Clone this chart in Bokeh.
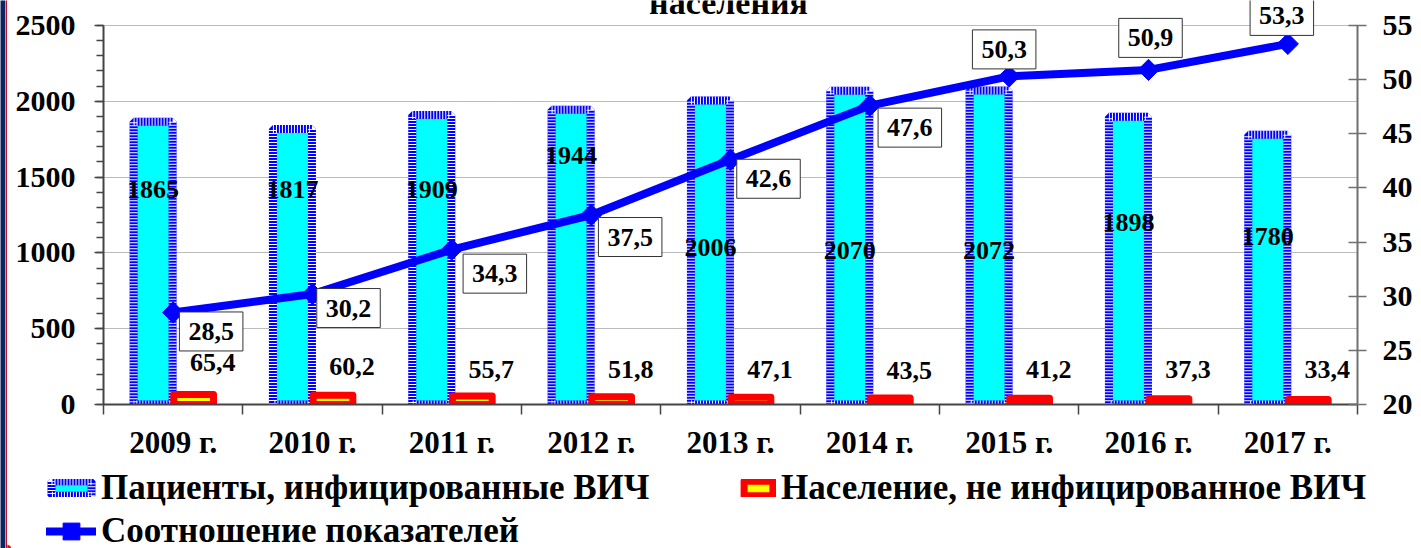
from bokeh.plotting import figure
from bokeh.layouts import column, row
from bokeh.models import (Range1d, LinearAxis, FixedTicker, ColumnDataSource,
                          Legend, LegendItem, Label)
from bokeh.core.properties import value
from bokeh.embed import file_html
from bokeh.resources import INLINE

# ---------------- data ----------------
years = ["2009 г.", "2010 г.", "2011 г.", "2012 г.", "2013 г.",
         "2014 г.", "2015 г.", "2016 г.", "2017 г."]
patients = [1865, 1817, 1909, 1944, 2006, 2070, 2072, 1898, 1780]
population = [65.4, 60.2, 55.7, 51.8, 47.1, 43.5, 41.2, 37.3, 33.4]
ratio = [28.5, 30.2, 34.3, 37.5, 42.6, 47.6, 50.3, 50.9, 53.3]
series_names = ["Пациенты, инфицированные ВИЧ",
                "Население, не инфицированное ВИЧ",
                "Соотношение показателей"]
title_text = "населения"
left_ticks = [0, 500, 1000, 1500, 2000, 2500]
right_ticks = [20, 25, 30, 35, 40, 45, 50, 55]

# label placement (style)
patients_label_y = [1418, 1418, 1418, 1642, 1036, 1016, 1016, 1200, 1108]
population_label_y = [277, 251, 231, 231, 231, 226, 229, 231, 231]
ratio_dx = [38, 36, 43, 39, 38, 40, -5, 2, -6]
ratio_dy = [19, 14, 24, 22, 19, 22, -27, -32, -28]

FONT = "Liberation Serif"
TOTAL_W = 1421
STRIP_NAVY = 5
STRIP_RED = 2
W = TOTAL_W - STRIP_NAVY - STRIP_RED
OFF = STRIP_NAVY + STRIP_RED
FRAME_H = 404          # frame: top at canvas 0, zero line at 404
TOP_PAD = 25           # 2500 / 55 sit 25 px below the frame top
H1 = 468
H2 = 80
TOTAL_H = H1 + H2
left_top = 2500 * FRAME_H / (FRAME_H - TOP_PAD)
right_top = 20 + 35 * FRAME_H / (FRAME_H - TOP_PAD)

n = len(years)
xc = [i + 0.5 for i in range(n)]
xb = [x - 0.144 for x in xc]
xr = [x + 0.147 for x in xc]

src = ColumnDataSource(dict(
    xc=xc, xb=xb, xr=xr,
    patients=patients, population=population, ratio=ratio,
    ply=patients_label_y, poply=population_label_y,
    plab=[str(v) for v in patients],
    poplab=[f"{v:.1f}".replace(".", ",") for v in population],
    rlab=[f"{v:.1f}".replace(".", ",") for v in ratio],
    dx=ratio_dx, dy=ratio_dy,
))

p = figure(width=W, height=H1, output_backend="svg", toolbar_location=None,
           x_range=Range1d(0, n), y_range=Range1d(0, left_top),
           min_border_left=103 - OFF, min_border_right=TOTAL_W - 1357, min_border_top=0,
           min_border_bottom=H1 - FRAME_H)
p.frame_align = False
p.extra_y_ranges = {"right": Range1d(20, right_top)}
p.outline_line_color = None
p.background_fill_color = "white"
p.border_fill_color = "white"

# x axis
xa = p.xaxis[0]
xa.ticker = FixedTicker(ticks=xc, minor_ticks=list(range(n + 1)))
xa.major_label_overrides = {x: y for x, y in zip(xc, years)}
xa.major_tick_out = 0
xa.major_tick_in = 0
xa.minor_tick_out = 10
xa.minor_tick_in = 0
xa.minor_tick_line_color = "#444444"
xa.minor_tick_line_width = 1.5
xa.axis_line_color = "#444444"
xa.axis_line_width = 2
xa.major_label_standoff = 10
xa.major_label_text_font = FONT
xa.major_label_text_font_style = "bold"
xa.major_label_text_font_size = "31px"
xa.major_label_text_color = "black"

# left axis
ya = p.yaxis[0]
ya.ticker = FixedTicker(ticks=left_ticks, minor_ticks=list(range(0, 2501, 100)))
ya.bounds = (0, 2500)
ya.major_tick_out = 9
ya.major_tick_in = 0
ya.minor_tick_out = 7
ya.minor_tick_in = 0
ya.axis_line_color = "#444444"
ya.axis_line_width = 2
ya.major_tick_line_color = "#444444"
ya.major_tick_line_width = 1.5
ya.minor_tick_line_color = "#444444"
ya.minor_tick_line_width = 1.5
ya.major_label_standoff = 19
ya.major_label_text_font = FONT
ya.major_label_text_font_style = "bold"
ya.major_label_text_font_size = "30px"
ya.major_label_text_color = "black"

# right axis
ra = LinearAxis(y_range_name="right", ticker=FixedTicker(ticks=right_ticks, minor_ticks=[]),
                bounds=(20, 55))
ra.major_tick_out = 9
ra.major_tick_in = 9
ra.minor_tick_out = 0
ra.minor_tick_in = 0
ra.axis_line_color = "#707070"
ra.axis_line_width = 2
ra.major_tick_line_color = "#707070"
ra.major_tick_line_width = 1.5
ra.major_label_standoff = 16
ra.major_label_text_font = FONT
ra.major_label_text_font_style = "bold"
ra.major_label_text_font_size = "30px"
ra.major_label_text_color = "black"
p.add_layout(ra, "right")

p.xgrid.visible = False
p.ygrid.grid_line_color = "#777777"
p.ygrid.grid_line_dash = "1 1"
p.ygrid.grid_line_width = 1

# styles
cyan_style = dict(fill_color="#00FFFF", line_color="#0000FF", line_width=8)
tex_style = dict(fill_alpha=0, line_color="white", line_width=8, line_dash="1 2")
red_style = dict(fill_color="#FFFF00", line_color="#FF0000", line_width=7, line_join="round")
line_style = dict(line_color="#0000FF", line_width=8, line_join="round", line_cap="round")
mark_style = dict(marker="square", angle=0.785398, size=15,
                  fill_color="#0000FF", line_color="#0000FF")

# patients bars
p.vbar(x="xb", top="patients", bottom=0, width=0.28, source=src, **cyan_style)
p.vbar(x="xb", top="patients", bottom=0, width=0.28, source=src, **tex_style)
# population bars
p.vbar(x="xr", top="population", bottom=0, width=0.285, source=src, **red_style)
# ratio line
p.line(x="xc", y="ratio", source=src, y_range_name="right", **line_style)
p.scatter(x="xc", y="ratio", source=src, y_range_name="right", **mark_style)

# labels
p.text(x="xb", y="ply", text="plab", source=src,
       text_font=value(FONT), text_font_style="bold", text_font_size="26px",
       text_align="center", text_baseline="middle", text_color="black")
p.text(x="xr", y="poply", text="poplab", source=src, x_offset=19,
       text_font=value(FONT), text_font_style="bold", text_font_size="26px",
       text_align="center", text_baseline="middle", text_color="black")
p.text(x="xc", y="ratio", text="rlab", source=src, y_range_name="right",
       x_offset="dx", y_offset="dy",
       text_font=value(FONT), text_font_style="bold", text_font_size="26px",
       text_align="center", text_baseline="middle", text_color="black",
       background_fill_color="white", border_line_color="#333333",
       border_line_width=1, padding=dict(x=9, y=11))

# title (cut at the top, as in the reference)
p.add_layout(Label(x=728 - 103, y=FRAME_H - 2, x_units="screen", y_units="screen",
                   text=title_text, text_align="center", text_baseline="alphabetic",
                   text_font=FONT, text_font_style="bold", text_font_size="34px",
                   text_color="black"))

# ---------------- legend strip ----------------
p2 = figure(width=W, height=H2, output_backend="svg", toolbar_location=None,
            x_range=Range1d(0, 1), y_range=Range1d(0, 1),
            x_axis_location=None, y_axis_location=None,
            min_border=0, min_border_left=0, min_border_right=0,
            min_border_top=0, min_border_bottom=0)
p2.frame_align = False
p2.outline_line_color = None
p2.grid.visible = False
p2.background_fill_color = "white"
p2.border_fill_color = "white"

# legend-only renderers (kept outside the visible range)
lb1 = p2.vbar(x=[-5], top=[-5], bottom=[-6], width=0.1, **cyan_style)
lb2 = p2.vbar(x=[-5], top=[-5], bottom=[-6], width=0.1, **tex_style)
lr = p2.vbar(x=[-5], top=[-5], bottom=[-6], width=0.1, **red_style)
ll = p2.line(x=[-5, -4], y=[-5, -5], **line_style)
lm = p2.scatter(x=[-5], y=[-5], **mark_style)

common = dict(padding=0, margin=0, border_line_color=None, background_fill_alpha=0,
              label_text_font=FONT, label_text_font_style="bold",
              label_text_font_size="35px", label_text_color="black",
              label_standoff=5, spacing=0)
leg1 = Legend(items=[LegendItem(label=series_names[0], renderers=[lb1, lb2])],
              location=(46 - OFF, 40), glyph_width=50, glyph_height=18, **common)
leg2 = Legend(items=[LegendItem(label=series_names[1], renderers=[lr])],
              location=(740 - OFF, 40), glyph_width=36, glyph_height=18, **common)
leg3 = Legend(items=[LegendItem(label=series_names[2], renderers=[ll, lm])],
              location=(46 - OFF, -4), glyph_width=50, glyph_height=42, **common)
p2.add_layout(leg1)
p2.add_layout(leg2)
p2.add_layout(leg3)


def strip(width, color):
    s = figure(width=width, height=TOTAL_H, output_backend="svg", toolbar_location=None,
               x_axis_location=None, y_axis_location=None,
               min_border=0, min_border_left=0, min_border_right=0,
               min_border_top=0, min_border_bottom=0)
    s.frame_align = False
    s.outline_line_color = None
    s.grid.visible = False
    s.background_fill_color = color
    s.border_fill_color = color
    return s


layout = row(strip(STRIP_NAVY, "#0B2560"), strip(STRIP_RED, "#C8102E"),
             column(p, p2, spacing=0), spacing=0)
open("out.html", "w").write(file_html(layout, INLINE))
